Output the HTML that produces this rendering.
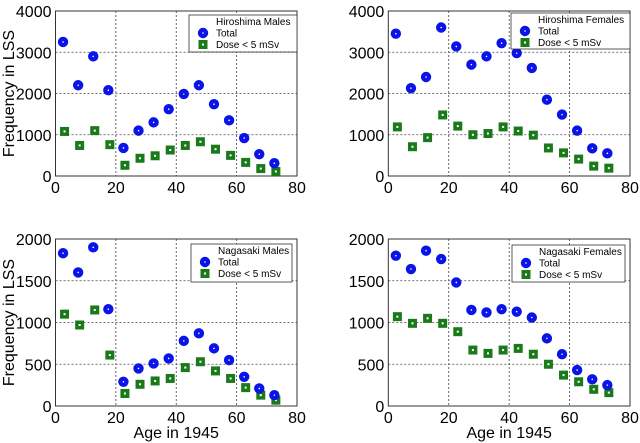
<!DOCTYPE html>
<html><head><meta charset="utf-8"><style>
body{margin:0;background:#fff;}
svg{display:block;font-family:"Liberation Sans",sans-serif;}
</style></head><body>
<svg id="fig" width="640" height="443"></svg>
<script>
const ages=[2.5,7.5,12.5,17.5,22.5,27.5,32.5,37.5,42.5,47.5,52.5,57.5,62.5,67.5,72.5];
const xTicks=[0,20,40,60,80];
const yTicksTop=[0,1000,2000,3000,4000];
const yTicksBottom=[0,500,1000,1500,2000];
const hmTotal=[3250,2200,2900,2080,680,1100,1300,1620,1990,2200,1740,1350,920,530,310];
const hmDose=[1080,740,1100,760,260,430,490,630,740,830,650,500,330,180,110];
const hfTotal=[3450,2130,2400,3600,3140,2700,2900,3220,2980,2620,1850,1490,1100,670,550];
const hfDose=[1190,710,930,1480,1210,1000,1030,1190,1090,990,680,560,410,240,190];
const nmTotal=[1830,1600,1900,1160,290,450,510,570,780,870,690,550,350,210,130];
const nmDose=[1100,970,1150,610,150,260,300,330,460,530,420,330,220,130,70];
const nfTotal=[1800,1640,1860,1760,1480,1150,1120,1160,1130,1060,810,620,430,320,250];
const nfDose=[1070,990,1050,990,890,670,630,670,690,620,500,370,290,200,160];

const NS="http://www.w3.org/2000/svg";
const svg=document.getElementById('fig');
function mk(tag,attrs,parent){const e=document.createElementNS(NS,tag);for(const k in attrs)e.setAttribute(k,attrs[k]);(parent||svg).appendChild(e);return e;}

const panels=[
 {key:'hiroshima-males',title:'Hiroshima Males',x0:55.5,x1:297,y0:11,y1:176,ymax:4000,yt:yTicksTop,tot:hmTotal,dose:hmDose,ylab:true,xlab:false,lg:[189,15,108,37]},
 {key:'hiroshima-females',title:'Hiroshima Females',x0:388.3,x1:630,y0:11,y1:176,ymax:4000,yt:yTicksTop,tot:hfTotal,dose:hfDose,ylab:false,xlab:false,lg:[511,13,119,36]},
 {key:'nagasaki-males',title:'Nagasaki Males',x0:55.5,x1:297,y0:239,y1:406,ymax:2000,yt:yTicksBottom,tot:nmTotal,dose:nmDose,ylab:true,xlab:true,lg:[191,244,101,38]},
 {key:'nagasaki-females',title:'Nagasaki Females',x0:388.3,x1:630,y0:239,y1:406,ymax:2000,yt:yTicksBottom,tot:nfTotal,dose:nfDose,ylab:false,xlab:true,lg:[512,245,113,37]}
];

panels.forEach(p=>{
 const g=mk('g',{});
 
 
 const xs=v=>p.x0+(p.x1-p.x0)*v/80;
 const ys=v=>p.y1-(p.y1-p.y0)*v/p.ymax;
 xTicks.forEach(t=>{
  if(t>0&&t<80){const l=mk('line',{x1:xs(t),x2:xs(t),y1:p.y0,y2:p.y1,stroke:'#444','stroke-width':0.8,'stroke-dasharray':'2,2'},g);
   }
  const tx=mk('text',{x:xs(t),y:p.y1+17,'font-size':16,'text-anchor':'middle',fill:'#000'},g);
  tx.textContent=t;
  
 });
 p.yt.forEach(t=>{
  if(t>0&&t<p.ymax){const l=mk('line',{x1:p.x0,x2:p.x1,y1:ys(t),y2:ys(t),stroke:'#444','stroke-width':0.8,'stroke-dasharray':'2,2'},g);
   }
  const tx=mk('text',{x:p.x0-4,y:ys(t)+6,'font-size':16,'text-anchor':'end',fill:'#000'},g);
  tx.textContent=t;
  
 });
 const fr=mk('rect',{x:p.x0,y:p.y0,width:p.x1-p.x0,height:p.y1-p.y0,fill:'none',stroke:'#333','stroke-width':1},g);
 
 p.dose.forEach((v,i)=>{
  const cx=xs(ages[i]+0.5),cy=ys(v);
  const r=mk('rect',{x:cx-4.5,y:cy-4.5,width:9,height:9,fill:'#1a7a1a'},g);
  
  mk('rect',{x:cx-1,y:cy-1,width:2,height:2,fill:'#fff'},g);
 });
 p.tot.forEach((v,i)=>{
  const cx=xs(ages[i]),cy=ys(v);
  const c=mk('circle',{cx:cx,cy:cy,r:3,fill:'none',stroke:'#0a14e6','stroke-width':4.4},g);
  
 });
 const [lx,ly,lw,lh]=p.lg;
 const lg=mk('g',{},g);
 
 mk('rect',{x:lx,y:ly,width:lw,height:lh,fill:'#fff',stroke:'#333','stroke-width':0.8},lg);
 const t1=mk('text',{x:lx+27,y:ly+10,'font-size':10,fill:'#000'},lg);t1.textContent=p.title;
 
 mk('circle',{cx:lx+14,cy:ly+18,r:3,fill:'none',stroke:'#0a14e6','stroke-width':4.4},lg);
 const t2=mk('text',{x:lx+27,y:ly+21.5,'font-size':10,fill:'#000'},lg);t2.textContent='Total';
 
 mk('rect',{x:lx+9.5,y:ly+25,width:9,height:9,fill:'#1a7a1a'},lg);
 mk('rect',{x:lx+13,y:ly+28.5,width:2,height:2,fill:'#fff'},lg);
 const t3=mk('text',{x:lx+27,y:ly+33,'font-size':10,fill:'#000'},lg);t3.textContent='Dose < 5 mSv';
 
 if(p.ylab){
  const cy=(p.y0+p.y1)/2;
  const yl=mk('text',{x:0,y:0,'font-size':16,'text-anchor':'middle',fill:'#000',transform:`translate(14,${cy}) rotate(-90)`},g);
  yl.textContent='Frequency in LSS';
  
 }
 if(p.xlab){
  const xl=mk('text',{x:(p.x0+p.x1)/2,y:438,'font-size':16,'text-anchor':'middle',fill:'#000'},g);
  xl.textContent='Age in 1945';
  
 }
});
</script>
</body></html>
